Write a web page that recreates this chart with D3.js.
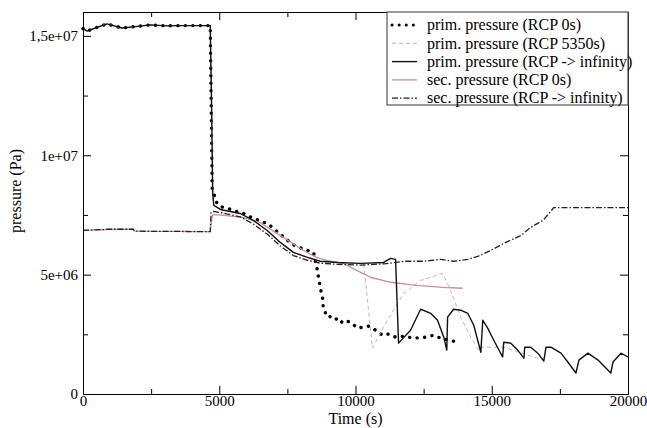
<!DOCTYPE html>
<html>
<head>
<meta charset="utf-8">
<script src="https://cdn.jsdelivr.net/npm/d3@7"></script>
<style>
  body { margin: 0; background: #fff; }
  svg { display: block; font-family: "Liberation Serif", "DejaVu Serif", serif; }
  .axis text { fill: #000; font-family: "Liberation Serif", serif; }
  .axis path, .axis line { stroke: #000; }
</style>
</head>
<body>
<svg id="chart" width="647" height="428"></svg>
<script>
// time / pressure pairs (Pa)
var primEarly = [[0,15.3e6],[150,15.2e6],[500,15.35e6],[880,15.5e6],[1430,15.33e6],[2000,15.4e6],
  [2460,15.46e6],[3090,15.42e6],[3500,15.43e6],[4000,15.43e6],[4670,15.43e6]];

var primRcp0 = [[4740,8.6e6],[4926,7.96e6],[5110,7.83e6],[5368,7.75e6],[5700,7.62e6],[5956,7.54e6],
  [6213,7.37e6],[6507,7.25e6],[6800,7.12e6],[7058,6.87e6],[7316,6.62e6],[7537,6.41e6],[7794,6.2e6],
  [8088,6.07e6],[8460,5.93e6],[8600,5.18e6],[8710,4.43e6],[8790,4.01e6],[8820,3.59e6],[8970,3.22e6],
  [9190,3.26e6],[9450,2.97e6],[9560,3.09e6],[9820,3.01e6],[10070,2.76e6],[10290,2.8e6],[10480,2.84e6],
  [10740,2.67e6],[10990,2.46e6],[11210,2.51e6],[11470,2.38e6],[11760,2.42e6],[12130,2.34e6],
  [12570,2.38e6],[12870,2.46e6],[13120,2.34e6],[13420,2.26e6],[13750,2.17e6]];

var primMid = [[4720,12e6],[4760,8.4e6],[4800,7.9e6],[5040,7.73e6],[5770,7.56e6],[6250,7.27e6],
  [6760,6.85e6],[7240,6.35e6],[7720,5.93e6],[8240,5.72e6],[8710,5.56e6],[9340,5.51e6],[10180,5.47e6]];

var primRcp5350 = [[10300,5.46e6],[10430,4.05e6],[10620,1.92e6],[11170,3.09e6],[11770,4.22e6],
  [12390,4.76e6],[13200,5.05e6],[13490,4.34e6],[13860,3.22e6],[14230,2.38e6],[14520,1.84e6],
  [14600,1.96e6],[15440,1.96e6],[16000,1.75e6],[16540,1.55e6],[16900,1.45e6]];

var primRcpInf = [[11030,5.51e6],[11290,5.68e6],[11470,5.64e6],[11580,2.13e6],[12020,2.67e6],
  [12390,3.55e6],[12760,3.38e6],[13010,3.09e6],[13240,2.38e6],[13350,1.84e6],[13380,3.22e6],
  [13600,3.55e6],[13860,3.51e6],[14120,3.38e6],[14340,2.88e6],[14600,1.75e6],[14670,3.09e6],
  [14850,2.76e6],[15070,2.26e6],[15400,1.55e6],[15440,2.17e6],[15700,2.13e6],[15950,1.84e6],
  [16180,1.5e6],[16210,1.96e6],[16430,1.96e6],[16690,1.71e6],[16910,1.38e6],[16990,1.96e6],
  [17170,1.96e6],[17540,1.71e6],[17790,1.34e6],[18090,0.88e6],[18200,1.42e6],[18530,1.71e6],
  [18900,1.42e6],[19370,0.88e6],[19450,1.34e6],[19740,1.71e6],[20000,1.55e6]];

var secEarly = [[0,6.85e6],[1000,6.9e6],[1840,6.9e6],[1900,6.82e6],[4670,6.8e6]];

var secRcp0 = [[4690,7.0e6],[4750,7.5e6],[5000,7.5e6],[5900,7.39e6],[6500,7.18e6],[7350,6.56e6],
  [8100,6.01e6],[8570,5.72e6],[8940,5.6e6],[9560,5.47e6],[10040,5.18e6],[10550,4.89e6],
  [11290,4.68e6],[12240,4.55e6],[13200,4.47e6],[13930,4.43e6]];

var secRcpInf = [[4700,7.6e6],[4800,7.65e6],[5040,7.6e6],[5770,7.42e6],[6250,7.12e6],[6760,6.7e6],
  [7240,6.2e6],[7720,5.8e6],[8240,5.6e6],[8710,5.48e6],[9340,5.43e6],[10180,5.4e6],[11030,5.45e6],
  [11800,5.56e6],[12500,5.56e6],[13130,5.64e6],[13600,5.56e6],[14120,5.64e6],[14480,5.76e6],
  [14960,6.01e6],[15440,6.31e6],[16070,6.64e6],[16430,6.98e6],[16880,7.27e6],[17280,7.81e6],
  [20000,7.81e6]];

var xTicks = [0, 5000, 10000, 15000, 20000];
var xMinor = [2500, 7500, 12500, 17500];
var yTicks = [0, 5e6, 1e7, 1.5e7];
var yTickLabels = ["0", "5e+06", "1e+07", "1,5e+07"];
var yMinor = [2.5e6, 7.5e6, 12.5e6];

var legendLabels = ["prim. pressure (RCP 0s)", "prim. pressure (RCP 5350s)",
  "prim. pressure (RCP -> infinity)", "sec. pressure (RCP 0s)", "sec. pressure (RCP -> infinity)"];

var series = [
  {data: primEarly.concat(primRcp0), color: "#000", width: 3.4, dash: "0.1 7.4", cap: "round"},
  {data: primEarly.concat(primMid, primRcp5350), color: "#c4b4b6", width: 1, dash: "4 3", cap: "butt"},
  {data: secEarly.concat(secRcp0), color: "#c98e96", width: 1.3, dash: null, cap: "butt"},
  {data: secEarly.concat(secRcpInf), color: "#222", width: 1.3, dash: "6 2 1.5 2", cap: "butt"},
  {data: primEarly.concat(primMid, primRcpInf), color: "#111", width: 1.4, dash: null, cap: "butt"}
];
// legend order -> series index
var legendOrder = [0, 1, 4, 2, 3];

var margin = {top: 12, right: 19, bottom: 34, left: 83},
    width = 647 - margin.left - margin.right,
    height = 428 - margin.top - margin.bottom;

var svg = d3.select("#chart");
var g = svg.append("g").attr("transform", "translate(" + margin.left + "," + margin.top + ")");

var x = d3.scaleLinear().domain([0, 20000]).range([0, width]);
var y = d3.scaleLinear().domain([0, 1.6e7]).range([height, 0]);

// lines
var line = d3.line()
  .x(function(d) { return x(d[0]); })
  .y(function(d) { return y(d[1]); });

series.forEach(function(s) {
  g.append("path")
    .datum(s.data)
    .attr("fill", "none")
    .attr("stroke", s.color)
    .attr("stroke-width", s.width)
    .attr("stroke-linecap", s.cap)
    .attr("stroke-linejoin", "round")
    .attr("stroke-dasharray", s.dash)
    .attr("d", line);
});

// axes, ticks pointing inward
g.append("g").attr("class", "axis")
  .attr("transform", "translate(0," + height + ")")
  .call(d3.axisBottom(x).tickValues(xTicks).tickSize(-8).tickSizeOuter(0).tickPadding(1)
    .tickFormat(d3.format("d")))
  .selectAll("text").attr("font-size", 15);
g.append("g").attr("class", "axis")
  .attr("transform", "translate(0," + height + ")")
  .call(d3.axisBottom(x).tickValues(xMinor).tickSize(-5).tickSizeOuter(0).tickFormat(""));

g.append("g").attr("class", "axis")
  .call(d3.axisLeft(y).tickValues(yTicks).tickSize(-8).tickSizeOuter(0).tickPadding(5)
    .tickFormat(function(d, i) { return yTickLabels[i]; }))
  .selectAll("text").attr("font-size", 15);
g.append("g").attr("class", "axis")
  .call(d3.axisLeft(y).tickValues(yMinor).tickSize(-5).tickSizeOuter(0).tickFormat(""));

g.append("g").attr("class", "axis")
  .call(d3.axisTop(x).tickValues(xTicks).tickSize(-8).tickSizeOuter(0).tickFormat(""));
g.append("g").attr("class", "axis")
  .call(d3.axisTop(x).tickValues(xMinor).tickSize(-5).tickSizeOuter(0).tickFormat(""));

g.append("g").attr("class", "axis")
  .attr("transform", "translate(" + width + ",0)")
  .call(d3.axisRight(y).tickValues(yTicks).tickSize(-8).tickSizeOuter(0).tickFormat(""));
g.append("g").attr("class", "axis")
  .attr("transform", "translate(" + width + ",0)")
  .call(d3.axisRight(y).tickValues(yMinor).tickSize(-5).tickSizeOuter(0).tickFormat(""));

// axis titles
g.append("text")
  .attr("x", width / 2)
  .attr("y", height + 30)
  .attr("text-anchor", "middle")
  .attr("font-size", 16)
  .text("Time (s)");

g.append("text")
  .attr("transform", "translate(-62," + (height / 2 - 12) + ") rotate(-90)")
  .attr("text-anchor", "middle")
  .attr("font-size", 16)
  .text("pressure (Pa)");

// legend
var legend = g.append("g").attr("transform", "translate(" + (width - 241) + ",0)");
legend.append("rect")
  .attr("width", 241)
  .attr("height", 93)
  .attr("fill", "#fff")
  .attr("stroke", "#555")
  .attr("stroke-width", 1.2);

var item = legend.selectAll("g.item")
  .data(legendOrder)
  .enter()
  .append("g")
  .attr("class", "item")
  .attr("transform", function(d, i) { return "translate(0," + (13 + i * 18.3) + ")"; });

item.append("line")
  .attr("x1", 5).attr("x2", 30)
  .attr("stroke", function(d) { return series[d].color; })
  .attr("stroke-width", function(d) { return Math.min(series[d].width, 3); })
  .attr("stroke-linecap", function(d) { return series[d].cap; })
  .attr("stroke-dasharray", function(d) { return d === 0 ? "0.1 7" : series[d].dash; });

item.append("text")
  .attr("x", 40)
  .attr("dy", "0.33em")
  .attr("font-size", 16)
  .text(function(d, i) { return legendLabels[i]; });
</script>
</body>
</html>
